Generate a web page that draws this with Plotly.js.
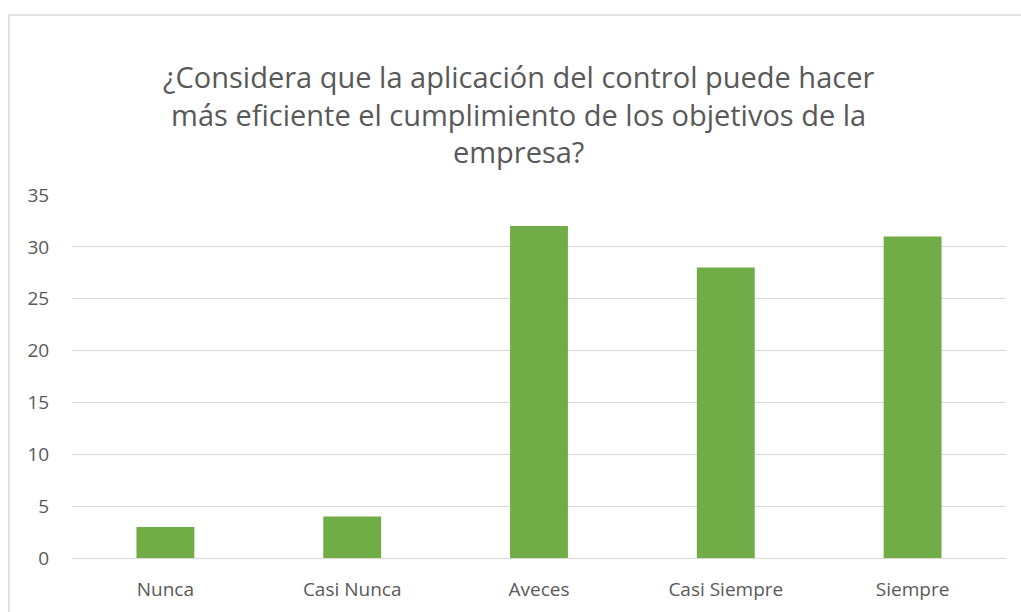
<!DOCTYPE html>
<html><head><meta charset="utf-8">
<script src="https://cdn.plot.ly/plotly-3.0.1.min.js"></script>
<style>html,body{margin:0;padding:0;background:#fff;overflow:hidden}#chart{width:1021px;height:612px}</style>
</head><body><div id="chart"></div>
<script>
const categories = ["Nunca", "Casi Nunca", "Aveces", "Casi Siempre", "Siempre"];
const values = [3, 4, 32, 28, 31];
const yTicks = [0, 5, 10, 15, 20, 25, 30, 35];
const titleText = "¿Considera que la aplicación del control puede hacer<br>más eficiente el cumplimiento de los objetivos de la<br>empresa?";

const trace = {
  type: "bar",
  x: categories,
  y: values,
  marker: {color: "#70AD47"},
  hoverinfo: "x+y"
};
const layout = {
  width: 1021, height: 612,
  margin: {l: 72, r: 15, t: 195, b: 54},
  paper_bgcolor: "#fff", plot_bgcolor: "#fff",
  font: {family: "Open Sans, Liberation Sans, sans-serif", color: "#595959"},
  title: {
    text: titleText,
    font: {size: 29, color: "#595959", family: "Open Sans, sans-serif"},
    xref: "container", x: 0.508, xanchor: "center",
    yref: "container", y: 1 - 88/612, yanchor: "top"
  },
  bargap: 0.69,
  showlegend: false,
  xaxis: {
    type: "category",
    showgrid: false, zeroline: false, showline: false,
    ticks: "outside", ticklen: 14, tickcolor: "rgba(0,0,0,0)",
    tickfont: {size: 19, color: "#595959"}
  },
  yaxis: {
    range: [0, 35], tickvals: yTicks, ticktext: yTicks.map(String),
    showgrid: true, gridcolor: "#d9d9d9", gridwidth: 1,
    zeroline: true, zerolinecolor: "#d9d9d9", zerolinewidth: 1,
    showline: false,
    ticks: "outside", ticklen: 18, tickcolor: "rgba(0,0,0,0)",
    tickfont: {size: 19, color: "#595959"}
  },
  shapes: [{
    type: "rect", xref: "paper", yref: "paper",
    x0: (9 - 72) / 934, x1: (1060 - 72) / 934,
    y0: (54 - 680) / 363, y1: 1 + (195 - 15) / 363,
    line: {color: "#d9d9d9", width: 1.5}, fillcolor: "rgba(0,0,0,0)", layer: "below"
  }]
};
Plotly.newPlot("chart", [trace], layout, {displayModeBar: false, staticPlot: true});
</script></body></html>
